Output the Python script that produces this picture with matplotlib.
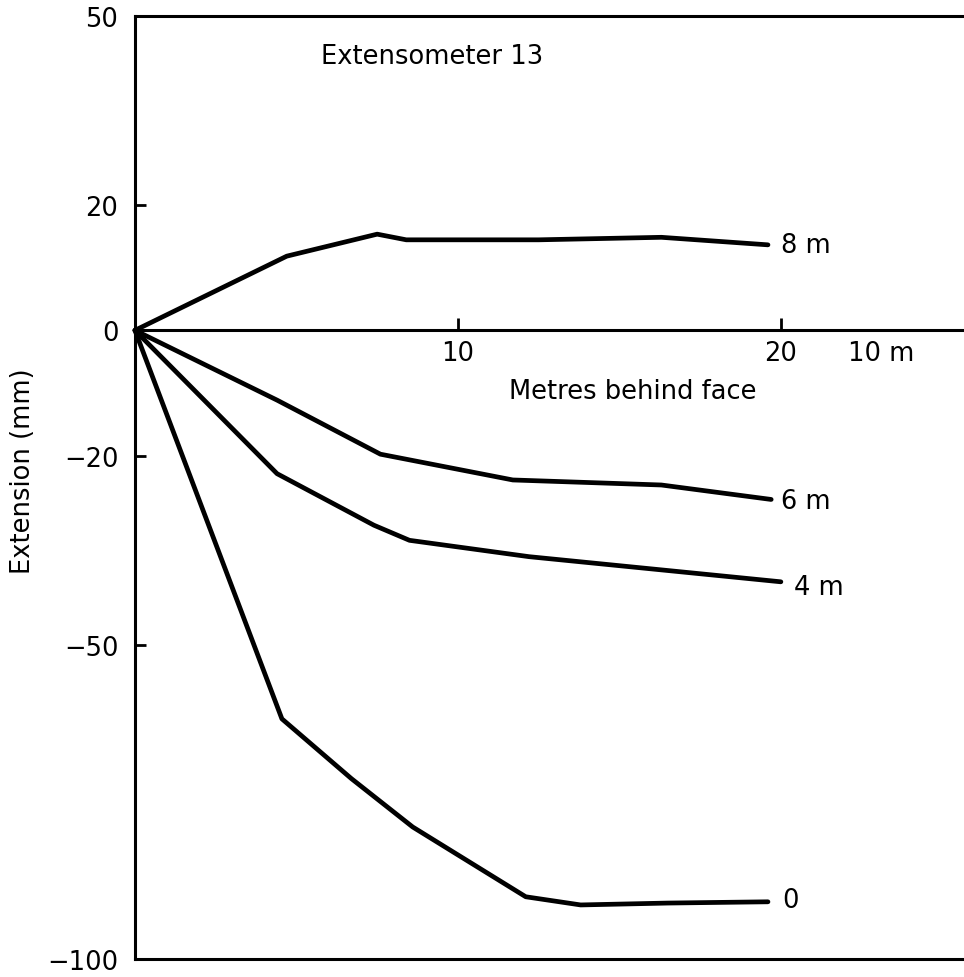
#!/usr/bin/env python3
"""Extensometer 13: extension vs metres behind face, one line per anchor depth."""

import matplotlib

matplotlib.use("Agg")
import matplotlib.pyplot as plt

plt.rcParams["font.family"] = ["DejaVu Sans"]

# distance behind face (m) / extension (mm)
DIST_8M = [0, 4.7, 7.5, 8.4, 12.5, 16.3, 19.6]
EXT_8M = [0, 11.8, 15.3, 14.4, 14.4, 14.8, 13.6]

DIST_6M = [0, 4.4, 7.6, 11.7, 16.3, 19.7]
EXT_6M = [0, -11.1, -19.7, -23.8, -24.6, -26.9]

DIST_4M = [0, 4.4, 7.4, 8.5, 12.2, 20.0]
EXT_4M = [0, -22.8, -31.0, -33.4, -36.0, -40.0]

DIST_0 = [0, 4.55, 6.7, 8.6, 12.1, 13.8, 16.5, 19.6]
EXT_0 = [0, -61.8, -71.3, -79.0, -90.1, -91.4, -91.1, -90.9]

CURVE_LABELS = ["8 m", "6 m", "4 m", "0"]
LABEL_POS = [(20.0, 13.6), (20.0, -27.2), (20.4, -40.8), (20.05, -90.6)]

Y_TICKS = [50, 20, 0, -20, -50, -100]
X_TICKS = [10, 20]

FS = 18.5

fig = plt.figure(figsize=(9.64, 9.78), dpi=100)
ax = fig.add_axes([0.140, 0.0184, 0.860, 0.9642])

for xs, ys in [(DIST_8M, EXT_8M), (DIST_6M, EXT_6M), (DIST_4M, EXT_4M), (DIST_0, EXT_0)]:
    ax.plot(xs, ys, color="black", linewidth=3.4, solid_joinstyle="round",
            solid_capstyle="round", clip_on=False)

for text, (x, y) in zip(CURVE_LABELS, LABEL_POS):
    ax.text(x, y, text, fontsize=FS, ha="left", va="center")

ax.set_xlim(0, 25.67)
ax.set_ylim(-100, 50)

# x axis drawn through zero, frame line along the bottom
ax.spines["bottom"].set_position(("data", 0))
ax.spines["right"].set_visible(False)
for s in ("bottom", "left", "top"):
    ax.spines[s].set_linewidth(2.2)
ax.axhline(-100, color="black", linewidth=2.2, clip_on=False)

ax.set_yticks(Y_TICKS)
ax.set_yticklabels([str(v).replace("-", "\u2212") for v in Y_TICKS])
ax.set_xticks(X_TICKS)
ax.set_xticklabels([str(v) for v in X_TICKS])
ax.tick_params(axis="y", direction="in", length=8, width=2, pad=12, labelsize=FS)
ax.tick_params(axis="x", direction="in", length=9, width=2, pad=7, labelsize=FS)

ax.text(23.1, -1.5, "10 m", fontsize=FS, ha="center", va="top")
ax.text(15.4, -9.7, "Metres behind face", fontsize=FS, ha="center", va="center")
ax.text(9.2, 43.6, "Extensometer 13", fontsize=FS, ha="center", va="center")

fig.text(23 / 964, 1 - 471 / 978, "Extension (mm)", fontsize=FS,
         rotation=90, ha="center", va="center")

fig.savefig("out.png", dpi=100)
